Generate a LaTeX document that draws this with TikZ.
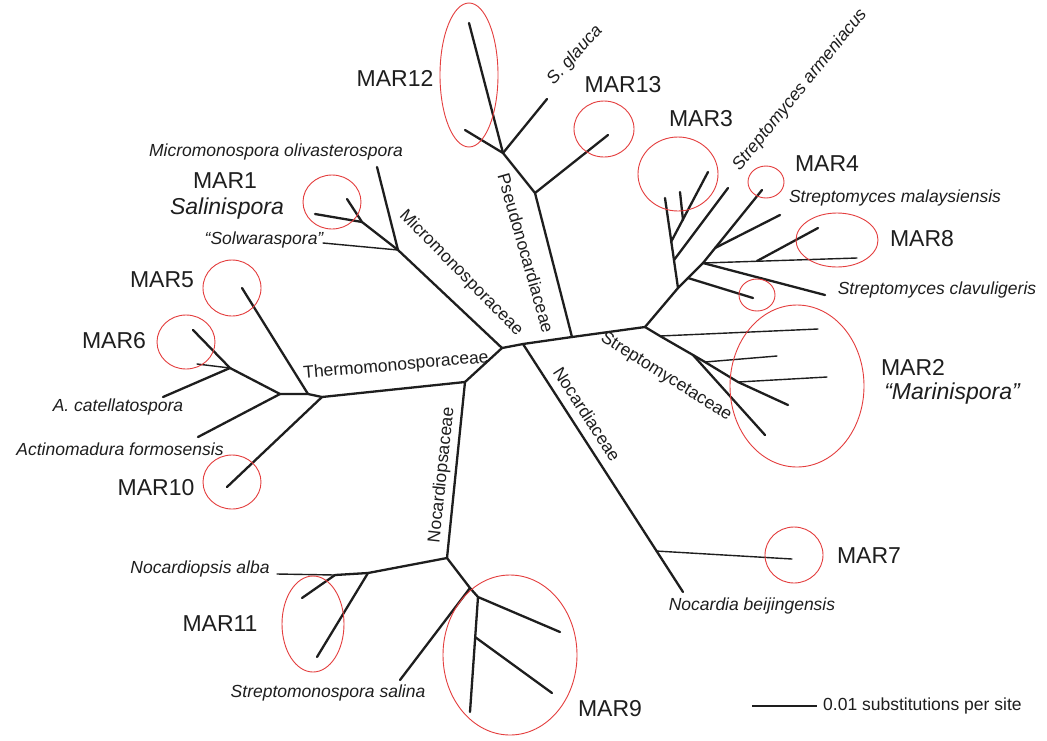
\documentclass[tikz,border=0pt]{standalone}
\usepackage{fontspec}
\setmainfont{Liberation Sans}
\definecolor{ringred}{RGB}{228,62,62}
\definecolor{ink}{RGB}{30,30,30}
\begin{document}
\begin{tikzpicture}[x=1pt,y=-1pt,
  br/.style={line width=2.3pt, line cap=round, line join=round, draw=ink},
  thn/.style={line width=1.4pt, line cap=round, draw=ink},
  ring/.style={draw=ringred, line width=0.9pt},
  sp/.style={font=\fontsize{17.5}{20}\selectfont\itshape, text=ink, inner sep=0pt},
  mar/.style={font=\fontsize{23}{26}\selectfont, text=ink, inner sep=0pt},
  mari/.style={font=\fontsize{23}{26}\selectfont\itshape, text=ink, inner sep=0pt},
  fam/.style={font=\fontsize{17.5}{20}\selectfont, text=ink, inner sep=0pt},
  bar/.style={font=\fontsize{17.5}{20}\selectfont, text=ink, inner sep=0pt}]
\useasboundingbox (0,0) rectangle (1047,740);
\fill[white] (0,0) rectangle (1047,740);

% ---------- tree points ----------
\coordinate (C1) at (502,348);
\coordinate (Cn) at (523,344);
\coordinate (P0) at (572,337);
\coordinate (S0) at (645,327);
\coordinate (T)  at (465,382);
\coordinate (L)  at (322,397);
\coordinate (N)  at (447,558);
% Micromonosporaceae
\coordinate (M)   at (398,250);
\coordinate (Mo)  at (377,167);
\coordinate (Ms)  at (323,243);
\coordinate (M3)  at (362,222);
\coordinate (M1a) at (347,199);
\coordinate (M1b) at (315,214);
% Pseudonocardiaceae
\coordinate (P1)   at (535,193);
\coordinate (P2)   at (503,153);
\coordinate (Pg)   at (547,99);
\coordinate (P12a) at (469,23);
\coordinate (P12b) at (465,130);
\coordinate (P13)  at (608,135);
% Streptomycetaceae lower
\coordinate (Sb) at (660,336);
\coordinate (Sa) at (693,355);
\coordinate (Se) at (705,362);
\coordinate (Sd) at (738,382);
\coordinate (t2a) at (818,329);
\coordinate (t2b) at (777,356);
\coordinate (t2c) at (827,377);
\coordinate (t2d) at (788,405);
\coordinate (t2e) at (765,435);
% Streptomycetaceae upper
\coordinate (U1)  at (678,288);
\coordinate (Uv)  at (665,198);
\coordinate (Ub1) at (674,260);
\coordinate (Ub1t) at (728,188);
\coordinate (Ub2) at (671,242);
\coordinate (Ub2t) at (708,172);
\coordinate (Ub3) at (683,220);
\coordinate (Ub3t) at (680,192);
\coordinate (U1b) at (688,278);
\coordinate (U1bt) at (753,298);
\coordinate (U2)  at (703,263);
\coordinate (U4t) at (762,190);
\coordinate (U2m) at (715,248);
\coordinate (Umt) at (780,215);
\coordinate (U8t) at (857,258);
\coordinate (U2r) at (757,261);
\coordinate (U8u) at (818,228);
\coordinate (Uct) at (825,295);
% Nocardiaceae
\coordinate (Nt)  at (683,592);
\coordinate (N7)  at (656,551);
\coordinate (N7t) at (792,559);
% Nocardiopsaceae
\coordinate (N2)   at (368,573);
\coordinate (N3)   at (335,575);
\coordinate (Nat)  at (277,574);
\coordinate (N11b) at (317,657);
\coordinate (N11a) at (302,598);
\coordinate (N4)   at (470,588);
\coordinate (Sst)  at (400,680);
\coordinate (N5)   at (478,597);
\coordinate (N9a)  at (560,632);
\coordinate (N9v)  at (470,712);
\coordinate (N9m)  at (475,637);
\coordinate (N9b)  at (552,693);
% Thermomonosporaceae
\coordinate (L2)  at (308,394);
\coordinate (L3)  at (280,394);
\coordinate (L5t) at (242,288);
\coordinate (L10t) at (227,487);
\coordinate (AFt) at (198,437);
\coordinate (L4)  at (230,368);
\coordinate (L6t) at (193,330);
\coordinate (L4s) at (197,364);
\coordinate (ACt) at (163,397);

% ---------- branches ----------
\draw[br] (L) -- (T) -- (C1) -- (Cn) -- (P0) -- (S0);
\draw[br] (T) -- (N);
\draw[br] (C1) -- (M);
\draw[br] (Cn) -- (Nt);
\draw[thn] (N7) -- (N7t);
% Micromonospora
\draw[br] (M) -- (Mo);
\draw[thn] (M) -- (Ms);
\draw[br] (M) -- (M3) -- (M1a);
\draw[br] (M3) -- (M1b);
% Pseudonocardia
\draw[br] (P0) -- (P1) -- (P2) -- (P12a);
\draw[br] (P1) -- (P13);
\draw[br] (P2) -- (Pg);
\draw[br] (P2) -- (P12b);
% Streptomyces
\draw[br] (S0) -- (Sb) -- (Sa) -- (t2e);
\draw[br] (Sa) -- (Se) -- (Sd) -- (t2d);
\draw[thn] (Sb) -- (t2a);
\draw[thn] (Se) -- (t2b);
\draw[thn] (Sd) -- (t2c);
\draw[br] (S0) -- (U1) -- (U1b) -- (U2);
\draw[br] (U1) -- (Uv);
\draw[br] (Ub1) -- (Ub1t);
\draw[br] (Ub2) -- (Ub2t);
\draw[br] (Ub3) -- (Ub3t);
\draw[br] (U1b) -- (U1bt);
\draw[br] (U2) -- (U4t);
\draw[br] (U2m) -- (Umt);
\draw[thn] (U2) -- (U8t);
\draw[br] (U2r) -- (U8u);
\draw[br] (U2) -- (Uct);
% Nocardiopsis
\draw[br] (N) -- (N2) -- (N3);
\draw[thn] (N3) -- (Nat);
\draw[br] (N2) -- (N11b);
\draw[br] (N3) -- (N11a);
\draw[br] (N) -- (N4) -- (N5) -- (N9v);
\draw[br] (N4) -- (Sst);
\draw[br] (N5) -- (N9a);
\draw[br] (N9m) -- (N9b);
% Thermomonospora
\draw[br] (L) -- (L2) -- (L3) -- (L4) -- (L6t);
\draw[br] (L2) -- (L5t);
\draw[br] (L) -- (L10t);
\draw[br] (L3) -- (AFt);
\draw[br] (L4) -- (ACt);
\draw[thn] (L4) -- (L4s);

% ---------- rings ----------
\draw[ring] (332,202) ellipse [x radius=29pt, y radius=27pt];
\draw[ring] (469,75) ellipse [x radius=29pt, y radius=72pt];
\draw[ring] (604,129) ellipse [x radius=30pt, y radius=28pt];
\draw[ring] (678,174) ellipse [x radius=40pt, y radius=37pt];
\draw[ring] (766,182) ellipse [x radius=18pt, y radius=16pt];
\draw[ring] (837,240) ellipse [x radius=41pt, y radius=27pt];
\draw[ring] (757,295) ellipse [x radius=18pt, y radius=16pt];
\draw[ring] (797,386) ellipse [x radius=67pt, y radius=81pt];
\draw[ring] (794,555) ellipse [x radius=29pt, y radius=28pt];
\draw[ring] (510,655) ellipse [x radius=67pt, y radius=80pt];
\draw[ring] (313,624) ellipse [x radius=31pt, y radius=48pt];
\draw[ring] (232,288) ellipse [x radius=29pt, y radius=28pt];
\draw[ring] (186,342) ellipse [x radius=29pt, y radius=27pt];
\draw[ring] (232,482) ellipse [x radius=29pt, y radius=27pt];

% ---------- MAR labels ----------
\node[mar] (mar1)  at (225,181) {MAR1};
\node[mari] (sal)  at (227,209) {Salinispora};
\node[mar] (mar12) at (395,78)  {MAR12};
\node[mar] (mar13) at (623,85)  {MAR13};
\node[mar] (mar3)  at (701,119) {MAR3};
\node[mar] (mar4)  at (827,164) {MAR4};
\node[mar] (mar8)  at (922,239) {MAR8};
\node[mar] (mar2)  at (913,367) {MAR2};
\node[mari] (marin) at (952,394) {“Marinispora”};
\node[mar] (mar7)  at (869,556) {MAR7};
\node[mar] (mar9)  at (610,709) {MAR9};
\node[mar] (mar11) at (220,624) {MAR11};
\node[mar] (mar5)  at (162,280) {MAR5};
\node[mar] (mar6)  at (114,341) {MAR6};
\node[mar] (mar10) at (156,488) {MAR10};

% ---------- species labels ----------
\node[sp] (molv) at (276,152) {Micromonospora olivasterospora};
\node[sp] (solw) at (264,240) {“Solwaraspora”};
\node[sp, rotate=48] (sgl) at (575,55) {S. glauca};
\node[sp, rotate=51] (sarm) at (800,90) {Streptomyces armeniacus};
\node[sp] (smal) at (895,198) {Streptomyces malaysiensis};
\node[sp] (scla) at (937,290) {Streptomyces clavuligeris};
\node[sp] (nbei) at (752,606) {Nocardia beijingensis};
\node[sp] (nalb) at (200,569) {Nocardiopsis alba};
\node[sp] (ssal) at (328,693) {Streptomonospora salina};
\node[sp] (acat) at (118,407) {A. catellatospora};
\node[sp] (afor) at (120,449) {Actinomadura formosensis};

% ---------- family labels ----------
\node[fam, rotate=-45.5] (fmic) at (461,273) {Micromonosporaceae};
\node[fam, rotate=-74] (fpse) at (526,253) {Pseudonocardiaceae};
\node[fam, rotate=5] (fthe) at (396,366) {Thermomonosporaceae};
\node[fam, rotate=84] (fnop) at (442,475) {Nocardiopsaceae};
\node[fam, rotate=-57] (fnoc) at (587,414) {Nocardiaceae};
\node[fam, rotate=-32] (fstr) at (666,377) {Streptomycetaceae};

% ---------- scale bar ----------
\coordinate (sb1) at (752,706);
\coordinate (sb2) at (817,706);
\draw[line width=2.6pt, draw=ink] (sb1) -- (sb2);
\node[bar, anchor=west] (sbt) at (823,706) {0.01 substitutions per site};
\end{tikzpicture}
\end{document}
